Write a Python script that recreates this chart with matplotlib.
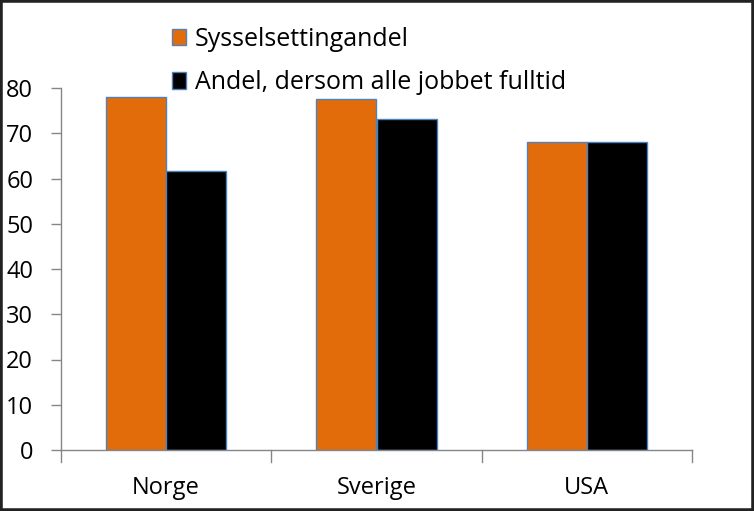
import matplotlib
matplotlib.use("Agg")
import matplotlib.pyplot as plt
from matplotlib.patches import Rectangle
import numpy as np

categories = ["Norge", "Sverige", "USA"]
series_names = ["Sysselsettingandel", "Andel, dersom alle jobbet fulltid"]
syssel = [78.0, 77.5, 68.0]
fulltid = [61.7, 73.1, 68.0]
yticks = [0, 10, 20, 30, 40, 50, 60, 70, 80]

plt.rcParams['font.family'] = ['Open Sans', 'DejaVu Sans']

fig = plt.figure(figsize=(7.54, 5.11), dpi=100)
ax = fig.add_axes([61/754, 1-450/511, (692-61)/754, (450-88)/511])

x = np.arange(len(categories))
w = 0.286
edge = '#4F81BD'
ax.bar(x - w/2, syssel, w, color='#E36C0A', edgecolor=edge, linewidth=1.0, label=series_names[0])
ax.bar(x + w/2, fulltid, w, color='#000000', edgecolor=edge, linewidth=1.0, label=series_names[1])

ax.set_xlim(-0.5, len(categories) - 0.5)
ax.set_ylim(0, 80)
ax.set_yticks(yticks)
ax.set_yticklabels([str(v) for v in yticks], fontsize=17)
ax.set_xticks(x)
ax.set_xticklabels(categories, fontsize=17)
ax.tick_params(axis='x', length=0, pad=19)
ax.tick_params(axis='y', length=7, color='#868686', width=1, pad=13)
for b in np.arange(-0.5, len(categories), 1.0):
    ax.plot([b, b], [0, -2.6], color='#868686', lw=1, clip_on=False)

for s in ['top', 'right']:
    ax.spines[s].set_visible(False)
for s in ['left', 'bottom']:
    ax.spines[s].set_color('#868686')
    ax.spines[s].set_linewidth(1)

leg = fig.legend(loc='upper left', bbox_to_anchor=(172/754, 1-27/511), frameon=False,
                 fontsize=18, handlelength=0.56, handleheight=0.64, handletextpad=0.36,
                 labelspacing=0.73, borderaxespad=0, borderpad=0)

fig.patches.append(Rectangle((0, 0), 1, 1, transform=fig.transFigure, fill=False,
                             edgecolor='#222222', linewidth=4, zorder=10))

fig.savefig("out.png", dpi=100)
